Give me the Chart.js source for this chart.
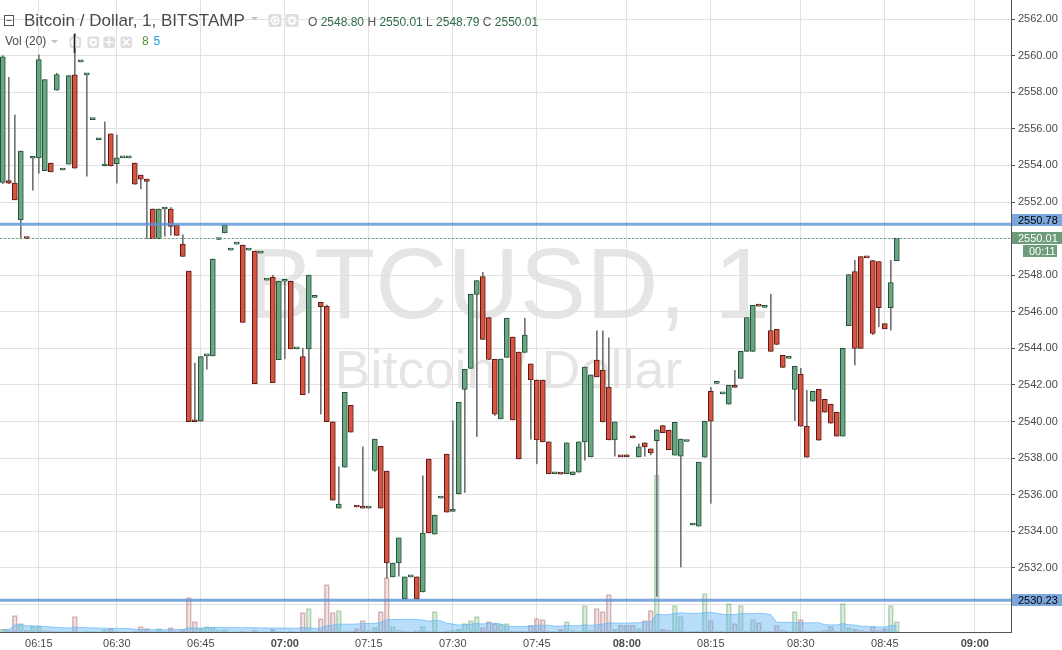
<!DOCTYPE html>
<html>
<head>
<meta charset="utf-8">
<script src="https://cdn.jsdelivr.net/npm/chart.js@4.4.0/dist/chart.umd.min.js"></script>
<style>
  html, body { margin: 0; padding: 0; background: #fff; }
  #wrap { width: 1062px; height: 650px; position: relative; }
</style>
</head>
<body>
<div id="wrap"><canvas id="chart"></canvas></div>
<script>
// BTC/USD 1 minute bars (Bitstamp)
const firstBar = "06:09"
const skippedMinutes = ["06:20", "06:26", "06:38", "06:52", "07:08", "07:22", "07:37", "08:07", "08:38"]
const barSlots = 168

const opens = [
  2553.07, 2553.17, 2553.03, 2551.02, 2550.01, 2554.39, 2554.41, 2553.71, 2554.13, 2558.11,
  2553.75, 2554.07, 2558.95, 2559.66, 2558.95, 2556.50, 2555.40, 2553.97, 2555.72, 2554.09,
  2554.41, 2554.41, 2554.13, 2553.47, 2553.25, 2551.62, 2549.99, 2551.62, 2551.62, 2550.74,
  2549.70, 2548.22, 2540.00, 2540.02, 2543.59, 2543.59, 2549.95, 2550.31, 2549.37, 2549.70,
  2549.65, 2549.37, 2549.32, 2549.21, 2547.73, 2547.89, 2543.39, 2547.67, 2547.67, 2543.97,
  2543.55, 2543.97, 2546.79, 2546.52, 2546.30, 2539.99, 2535.27, 2537.51, 2540.89, 2535.34,
  2535.35, 2535.27, 2537.33, 2538.65, 2537.29, 2531.51, 2532.27, 2530.31, 2531.51, 2531.51,
  2530.69, 2537.95, 2533.85, 2535.82, 2538.22, 2535.09, 2536.04, 2541.76, 2542.91, 2546.95,
  2547.93, 2545.69, 2543.40, 2540.15, 2543.51, 2544.62, 2543.80, 2543.78, 2543.15, 2542.27,
  2542.27, 2538.89, 2537.15, 2537.14, 2537.15, 2537.09, 2537.24, 2538.89, 2538.07, 2543.36,
  2542.82, 2541.89, 2539.00, 2538.08, 2538.18, 2539.22, 2538.07, 2538.84, 2538.51, 2538.95,
  2539.78, 2539.53, 2538.16, 2538.11, 2538.91, 2534.35, 2534.29, 2538.05, 2541.65, 2542.09,
  2541.51, 2540.95, 2541.98, 2542.36, 2543.84, 2543.84, 2546.32, 2546.24, 2544.98, 2545.04,
  2543.62, 2543.45, 2541.76, 2542.58, 2539.75, 2541.11, 2541.76, 2541.22, 2540.95, 2540.51,
  2539.20, 2545.24, 2548.20, 2549.02, 2548.96, 2548.80, 2548.75, 2545.36, 2546.22, 2548.80
]
const highs = [
  2560.00, 2558.81, 2556.76, 2554.79, 2550.01, 2554.39, 2560.04, 2558.69, 2554.13, 2559.04,
  2553.75, 2558.91, 2561.20, 2559.66, 2558.95, 2556.50, 2555.40, 2556.38, 2555.72, 2555.66,
  2554.41, 2554.41, 2554.13, 2553.47, 2553.25, 2551.62, 2551.62, 2551.62, 2551.70, 2550.74,
  2550.21, 2548.22, 2543.19, 2543.55, 2543.59, 2548.88, 2550.00, 2550.74, 2549.37, 2549.70,
  2549.65, 2549.37, 2549.32, 2549.21, 2547.73, 2548.00, 2547.67, 2547.67, 2547.67, 2543.97,
  2544.01, 2548.00, 2546.79, 2546.52, 2546.37, 2539.99, 2537.53, 2541.60, 2540.89, 2535.34,
  2538.62, 2535.27, 2539.04, 2538.65, 2537.29, 2532.27, 2533.64, 2531.51, 2531.51, 2531.51,
  2537.04, 2537.95, 2534.89, 2535.82, 2538.22, 2540.04, 2541.05, 2542.85, 2546.95, 2547.71,
  2548.16, 2545.69, 2543.40, 2543.42, 2545.65, 2544.62, 2543.80, 2545.65, 2543.15, 2542.27,
  2542.27, 2538.89, 2537.15, 2537.14, 2538.84, 2537.25, 2538.89, 2542.98, 2542.55, 2544.96,
  2544.96, 2544.58, 2539.98, 2538.08, 2538.18, 2539.22, 2538.78, 2538.84, 2538.51, 2539.55,
  2539.78, 2539.53, 2539.96, 2539.04, 2538.91, 2534.35, 2537.78, 2540.02, 2541.87, 2542.09,
  2541.51, 2541.98, 2542.80, 2543.84, 2545.69, 2546.35, 2546.32, 2546.24, 2546.96, 2545.04,
  2543.62, 2543.45, 2543.02, 2542.91, 2541.71, 2541.65, 2541.76, 2541.22, 2540.95, 2540.51,
  2544.00, 2548.04, 2548.82, 2549.02, 2548.96, 2548.80, 2548.75, 2545.36, 2548.82, 2550.01
]
const lows = [
  2553.00, 2553.00, 2552.12, 2549.99, 2550.00, 2552.64, 2553.57, 2553.71, 2553.65, 2558.11,
  2553.75, 2554.07, 2553.85, 2559.66, 2553.41, 2556.50, 2555.40, 2553.97, 2553.97, 2553.03,
  2554.41, 2554.41, 2552.97, 2552.72, 2549.99, 2549.99, 2549.99, 2550.13, 2550.18, 2550.18,
  2549.02, 2539.99, 2539.99, 2540.02, 2542.86, 2543.59, 2549.95, 2550.31, 2549.37, 2549.70,
  2545.42, 2549.37, 2542.07, 2549.21, 2547.73, 2542.13, 2543.39, 2543.43, 2543.97, 2543.97,
  2541.47, 2541.56, 2546.79, 2540.41, 2539.99, 2535.70, 2535.27, 2537.51, 2539.42, 2535.33,
  2535.27, 2535.27, 2537.27, 2535.27, 2531.45, 2531.51, 2531.55, 2530.31, 2531.51, 2530.31,
  2530.69, 2533.91, 2533.85, 2535.82, 2535.05, 2535.09, 2536.04, 2536.13, 2542.91, 2539.18,
  2544.49, 2543.40, 2540.33, 2540.15, 2543.51, 2540.09, 2537.96, 2543.78, 2539.04, 2537.69,
  2538.89, 2537.15, 2537.15, 2537.13, 2537.15, 2537.09, 2537.24, 2537.89, 2538.07, 2542.44,
  2539.98, 2539.00, 2538.11, 2538.07, 2538.07, 2539.11, 2538.07, 2538.11, 2538.18, 2530.45,
  2539.40, 2538.47, 2538.16, 2532.05, 2538.91, 2534.35, 2534.29, 2538.05, 2535.53, 2542.09,
  2541.51, 2540.95, 2541.87, 2542.36, 2543.84, 2543.84, 2546.31, 2546.24, 2543.84, 2544.22,
  2542.96, 2543.45, 2540.05, 2539.75, 2538.05, 2541.11, 2538.98, 2540.51, 2539.91, 2539.20,
  2539.20, 2545.24, 2543.09, 2544.00, 2548.95, 2544.75, 2545.18, 2545.07, 2545.00, 2548.79
]
const closes = [
  2559.94, 2553.03, 2552.12, 2554.79, 2550.00, 2554.39, 2559.78, 2558.69, 2553.65, 2558.97,
  2553.75, 2558.91, 2553.85, 2559.66, 2558.95, 2556.50, 2555.40, 2553.97, 2553.97, 2554.41,
  2554.41, 2554.41, 2552.97, 2553.25, 2553.13, 2549.99, 2551.62, 2551.62, 2550.67, 2550.18,
  2549.02, 2539.99, 2539.99, 2543.55, 2543.59, 2548.88, 2550.00, 2550.74, 2549.37, 2549.70,
  2545.42, 2549.37, 2542.07, 2549.21, 2547.73, 2542.13, 2547.67, 2547.67, 2543.97, 2543.97,
  2541.47, 2548.00, 2546.79, 2546.28, 2539.99, 2535.70, 2535.49, 2541.60, 2539.42, 2535.33,
  2535.27, 2535.27, 2539.04, 2535.27, 2532.27, 2532.27, 2533.64, 2531.51, 2531.51, 2530.31,
  2533.91, 2533.91, 2534.89, 2535.82, 2535.05, 2535.09, 2541.05, 2542.85, 2546.95, 2547.71,
  2544.49, 2543.40, 2540.40, 2543.42, 2545.65, 2540.09, 2537.96, 2544.73, 2542.27, 2539.00,
  2538.89, 2537.15, 2537.15, 2537.13, 2538.84, 2537.25, 2538.89, 2542.98, 2542.55, 2542.44,
  2539.98, 2539.00, 2539.98, 2538.07, 2538.07, 2539.11, 2538.62, 2538.62, 2538.29, 2539.55,
  2539.40, 2538.47, 2539.96, 2539.04, 2538.91, 2534.35, 2537.78, 2540.02, 2540.02, 2542.09,
  2541.51, 2541.98, 2541.87, 2543.84, 2545.69, 2546.35, 2546.31, 2546.24, 2543.84, 2544.22,
  2542.96, 2543.45, 2543.02, 2539.75, 2538.05, 2541.65, 2538.98, 2540.51, 2539.91, 2539.20,
  2544.00, 2548.04, 2544.00, 2544.00, 2548.95, 2544.82, 2546.22, 2545.07, 2547.60, 2550.01
]
// relative volume per bar
const volumes = [
  2.7, 2, 16.3, 8.3, 1.7, 5.7, 5.7, 1.5, 1, 0.7,
  0.7, 1, 15.3, 0.5, 0.7, 1, 0.5, 2.5, 3.7, 1,
  0.5, 0.5, 1, 5.3, 3.3, 1, 3.3, 1, 4.3, 1,
  2.3, 34.3, 10.3, 3.3, 5.3, 4.3, 1.7, 2.3, 0.5, 0.5,
  1, 0.5, 1.7, 0.5, 0.5, 2.7, 0.7, 0.5, 1, 0.5,
  19.3, 23.3, 0.7, 13.3, 47.3, 19.3, 21.3, 0.7, 1, 3.3,
  11.3, 1.5, 4.3, 20.3, 54.3, 5.3, 1.7, 1, 0.5, 1.3,
  5.3, 1, 20.3, 0.5, 1, 1.7, 2.7, 8.3, 11.3, 15.3,
  4.3, 10.3, 8.3, 7.3, 8.3, 1, 1, 0.7, 6.7, 13.3,
  12.3, 1, 0.7, 2.7, 10.3, 1.7, 0.7, 26.3, 1.7, 23.3,
  20.3, 37.3, 2.7, 6.7, 6.7, 6.7, 3.3, 11.3, 21.3, 157,
  3, 2, 26.3, 15.3, 1, 0.7, 1, 38.3, 11.3, 1,
  1, 28.3, 8.3, 26.3, 1, 12.3, 9.3, 1, 1, 6.3,
  1.7, 1, 20.3, 12.3, 1, 1, 1, 1.7, 5.3, 1,
  28.3, 4.3, 2.7, 1.7, 1, 5.3, 1.7, 3.3, 26.3, 10.3
]

const resistance = 2550.78
const support = 2530.23
const countdown = "00:11"
const title = "Bitcoin / Dollar, 1, BITSTAMP"
const watermark = ["BTCUSD, 1", "Bitcoin / Dollar"]
const volLegend = ["8", "5"]
const maLength = 20

const UP = "#6ba583", UP_BORDER = "#225437"
const DOWN = "#d75442", DOWN_BORDER = "#5b1a13"
const WICK = "#737375"
const FONT = '"Liberation Sans", Arial, sans-serif'

function buildTimes() {
  const out = []
  let [h, m] = firstBar.split(":").map(Number)
  while (out.length < barSlots) {
    const t = String(h).padStart(2, "0") + ":" + String(m).padStart(2, "0")
    if (!skippedMinutes.includes(t)) out.push(t)
    m++
    if (m === 60) { m = 0; h++ }
  }
  return out
}
const times = buildTimes()

const isUp = i => closes[i] >= opens[i]
const bodies = opens.map((o, i) => ({ x: i, y: [o, closes[i]] }))
const wicks = opens.map((o, i) => ({ x: i, y: [lows[i], highs[i]] }))
const volBars = volumes.map((v, i) => ({ x: i, y: v }))
const volAvg = volumes.map((v, i) => {
  const win = volumes.slice(Math.max(0, i - maLength + 1), i + 1)
  return { x: i, y: win.reduce((a, b) => a + b, 0) / win.length }
})
const lastIdx = closes.length - 1

function iconBox(ctx, x, y, s, kind) {
  ctx.fillStyle = "#dedede"
  ctx.beginPath()
  ctx.roundRect(x, y, s, s, 2)
  ctx.fill()
  ctx.strokeStyle = "#fff"
  ctx.lineWidth = 1.6
  const cx = x + s / 2, cy = y + s / 2, r = s * 0.28
  ctx.beginPath()
  if (kind === "eye") {
    ctx.arc(cx, cy, r, 0, Math.PI * 2)
    ctx.stroke()
    ctx.fillStyle = "#fff"
    ctx.beginPath(); ctx.arc(cx, cy, r * 0.45, 0, Math.PI * 2); ctx.fill()
  } else if (kind === "gear") {
    for (let k = 0; k < 8; k++) {
      const a = k * Math.PI / 4
      ctx.moveTo(cx + Math.cos(a) * r * 0.6, cy + Math.sin(a) * r * 0.6)
      ctx.lineTo(cx + Math.cos(a) * r * 1.35, cy + Math.sin(a) * r * 1.35)
    }
    ctx.stroke()
    ctx.beginPath(); ctx.arc(cx, cy, r * 0.8, 0, Math.PI * 2); ctx.stroke()
  } else if (kind === "plus") {
    ctx.moveTo(cx - r * 1.2, cy); ctx.lineTo(cx + r * 1.2, cy)
    ctx.moveTo(cx, cy - r * 1.2); ctx.lineTo(cx, cy + r * 1.2)
    ctx.stroke()
  } else {
    ctx.moveTo(cx - r, cy - r); ctx.lineTo(cx + r, cy + r)
    ctx.moveTo(cx + r, cy - r); ctx.lineTo(cx - r, cy + r)
    ctx.stroke()
  }
}

function caret(ctx, x, y) {
  ctx.fillStyle = "#c4c4c4"
  ctx.beginPath()
  ctx.moveTo(x, y); ctx.lineTo(x + 7, y); ctx.lineTo(x + 3.5, y + 3.5)
  ctx.closePath()
  ctx.fill()
}

const watermarkPlugin = {
  id: "watermark",
  beforeDraw(chart) {
    const { ctx, chartArea } = chart
    const cx = (chartArea.left + chartArea.right) / 2 + 3
    ctx.save()
    ctx.fillStyle = "rgba(0,0,0,0.1)"
    ctx.textAlign = "center"
    ctx.textBaseline = "alphabetic"
    ctx.font = "100px " + FONT
    ctx.fillText(watermark[0], cx, 318)
    ctx.font = "54px " + FONT
    ctx.fillText(watermark[1], cx, 388)
    ctx.restore()
  }
}

const levelsPlugin = {
  id: "levels",
  afterDatasetsDraw(chart) {
    const { ctx, chartArea } = chart
    const y = chart.scales.y
    ctx.save()
    ctx.strokeStyle = "rgba(91,145,215,0.8)"
    ctx.lineWidth = 3
    ;[resistance, support].forEach(v => {
      const py = y.getPixelForValue(v)
      ctx.beginPath(); ctx.moveTo(chartArea.left, py); ctx.lineTo(chartArea.right, py); ctx.stroke()
    })
    const pl = Math.round(y.getPixelForValue(closes[lastIdx])) + 0.5
    ctx.strokeStyle = UP
    ctx.lineWidth = 1
    ctx.setLineDash([2, 2])
    ctx.beginPath(); ctx.moveTo(chartArea.left, pl); ctx.lineTo(chartArea.right, pl); ctx.stroke()
    ctx.restore()
  }
}

const labelsPlugin = {
  id: "priceLabels",
  afterDraw(chart) {
    const { ctx, chartArea } = chart
    const y = chart.scales.y
    const x0 = chartArea.right
    const w = chart.width - x0
    const box = (cy, text, bg, fg, bx, bw) => {
      ctx.fillStyle = bg
      ctx.fillRect(bx, Math.round(cy - 6), bw, 12)
      ctx.fillStyle = fg
      ctx.font = "11px " + FONT
      ctx.textBaseline = "middle"
      ctx.textAlign = "left"
      ctx.fillText(text, bx + 6, cy + 0.5)
    }
    ctx.save()
    const yLast = y.getPixelForValue(closes[lastIdx])
    box(y.getPixelForValue(resistance) - 4, resistance.toFixed(2), "#7ba7dd", "#000", x0 + 1, w - 1)
    box(yLast, closes[lastIdx].toFixed(2), "#6c9c7a", "#fff", x0 + 1, w - 1)
    box(yLast + 13, countdown, "#6c9c7a", "#fff", x0 + 12, 34)
    box(y.getPixelForValue(support), support.toFixed(2), "#7ba7dd", "#000", x0 + 1, w - 1)

    // legend header
    ctx.textAlign = "left"
    ctx.textBaseline = "alphabetic"
    ctx.strokeStyle = "#555"
    ctx.lineWidth = 1
    ctx.strokeRect(4.5, 15.5, 9, 10)
    ctx.beginPath(); ctx.moveTo(6.5, 20.5); ctx.lineTo(11.5, 20.5); ctx.stroke()
    ctx.font = "17px " + FONT
    ctx.fillStyle = "#4a4a4a"
    ctx.fillText(title, 24, 26)
    caret(ctx, 251, 17)
    iconBox(ctx, 268.5, 14, 13, "eye")
    iconBox(ctx, 285.5, 14, 13, "gear")
    ctx.font = "12px " + FONT
    let tx = 308
    const ohlc = [["O", opens[lastIdx]], ["H", highs[lastIdx]], ["L", lows[lastIdx]], ["C", closes[lastIdx]]]
    ohlc.forEach(([k, v]) => {
      ctx.fillStyle = "#555"
      ctx.fillText(k, tx, 26)
      tx += ctx.measureText(k + " ").width
      const s = v.toFixed(2)
      ctx.fillStyle = "#2f6b45"
      ctx.fillText(s, tx, 26)
      tx += ctx.measureText(s + " ").width
    })
    ctx.fillStyle = "#4a4a4a"
    ctx.fillText("Vol (20)", 5, 45)
    caret(ctx, 51, 40)
    iconBox(ctx, 69.5, 36.5, 11.5, "eye")
    iconBox(ctx, 87.5, 36.5, 11.5, "gear")
    iconBox(ctx, 103.5, 36.5, 11.5, "plus")
    iconBox(ctx, 120.5, 36.5, 11.5, "x")
    ctx.fillStyle = "#4c9a2e"
    ctx.fillText(volLegend[0], 142, 45)
    ctx.fillStyle = "#2196f3"
    ctx.fillText(volLegend[1], 153.5, 45)
    ctx.strokeStyle = "#222"
    ctx.beginPath(); ctx.moveTo(74.5, 34); ctx.lineTo(74.5, 53); ctx.stroke()
    ctx.restore()
  }
}

const quarterIdx = times.map((t, i) => ({ t, i }))
  .filter(o => ["00", "15", "30", "45"].includes(o.t.slice(3)))
  .map(o => o.i)

new Chart(document.getElementById("chart"), {
  type: "bar",
  data: {
    datasets: [
      {
        label: "Volume",
        data: volBars,
        yAxisID: "yv",
        order: 5,
        grouped: false,
        barThickness: 5,
        borderWidth: 1,
        borderSkipped: false,
        backgroundColor: volumes.map((v, i) => isUp(i) ? "rgba(90,160,90,0.2)" : "rgba(160,80,80,0.16)"),
        borderColor: volumes.map((v, i) => isUp(i) ? "rgba(90,160,90,0.4)" : "rgba(160,80,80,0.38)")
      },
      {
        type: "line",
        label: "Volume MA",
        data: volAvg,
        yAxisID: "yv",
        order: 4,
        fill: "origin",
        pointRadius: 0,
        borderWidth: 1,
        borderColor: "rgba(100,181,246,0.7)",
        backgroundColor: "rgba(100,181,246,0.45)"
      },
      {
        label: "Wick",
        data: wicks,
        yAxisID: "y",
        order: 2,
        grouped: false,
        barThickness: 1,
        backgroundColor: WICK
      },
      {
        label: "Body",
        data: bodies,
        yAxisID: "y",
        order: 1,
        grouped: false,
        barThickness: 5,
        minBarLength: 2,
        borderWidth: 1,
        borderSkipped: false,
        backgroundColor: opens.map((o, i) => isUp(i) ? UP : DOWN),
        borderColor: opens.map((o, i) => isUp(i) ? UP_BORDER : DOWN_BORDER)
      }
    ]
  },
  options: {
    responsive: true,
    maintainAspectRatio: false,
    animation: false,
    devicePixelRatio: 1,
    layout: { padding: 0 },
    plugins: { legend: { display: false }, tooltip: { enabled: false } },
    scales: {
      x: {
        type: "linear",
        min: -0.47,
        max: 168.03,
        offset: false,
        grid: { color: "#e1e1e1", drawTicks: false, offset: false },
        border: { color: "#555", width: 1 },
        afterBuildTicks: axis => { axis.ticks = quarterIdx.map(v => ({ value: v })) },
        afterFit: s => { s.height = 18; s.paddingLeft = 0; s.paddingRight = 0 },
        ticks: {
          autoSkip: false,
          maxRotation: 0,
          padding: 5,
          color: "#4a4a4a",
          font: ctx => ({ family: FONT, size: 11, weight: (times[ctx.tick && ctx.tick.value] || "").endsWith(":00") ? "bold" : "normal" }),
          callback: v => times[v]
        }
      },
      y: {
        position: "right",
        min: 2528.5,
        max: 2563.04,
        grid: { color: "#e1e1e1", tickLength: 4, tickColor: "#555" },
        border: { color: "#555", width: 1 },
        afterFit: s => { s.width = 51; s.paddingTop = 0; s.paddingBottom = 0 },
        ticks: {
          stepSize: 2,
          includeBounds: false,
          padding: 3,
          color: "#4a4a4a",
          font: { family: FONT, size: 11 },
          callback: v => (v === 2550 || v === 2530) ? "" : v.toFixed(2)
        }
      },
      yv: { display: false, min: 0, max: 632 }
    }
  },
  plugins: [watermarkPlugin, levelsPlugin, labelsPlugin]
})
</script>
</body>
</html>
